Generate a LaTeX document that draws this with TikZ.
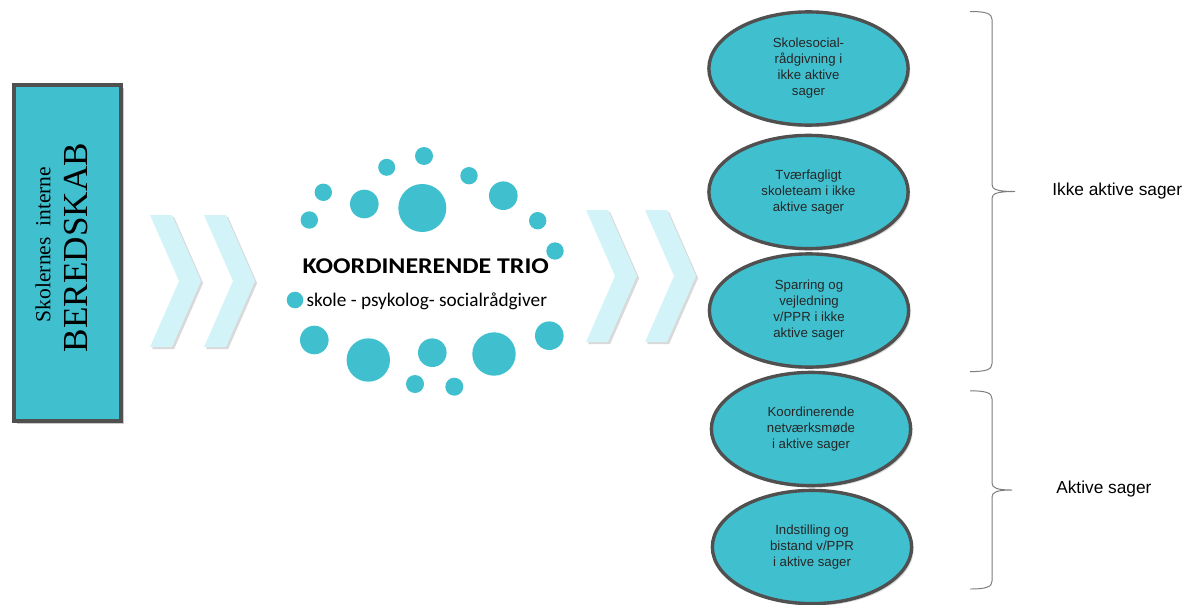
\documentclass[tikz,border=0pt]{standalone}
\usepackage{fontspec}
\setmainfont{Liberation Serif}
\setsansfont{Liberation Sans}
\newfontfamily\calibri{Carlito}
\usetikzlibrary{shapes.geometric, shadows}
\definecolor{trioteal}{RGB}{64,192,207}
\definecolor{rimgray}{RGB}{80,80,80}
\definecolor{chevcyan}{RGB}{210,244,248}
\definecolor{bracegray}{RGB}{125,125,125}

\begin{document}
\begin{tikzpicture}[x=0.025cm,y=-0.025cm,
  boxnode/.style={rectangle,fill=trioteal,draw=rimgray,line width=2.4pt,
    minimum width=2.68cm,minimum height=8.4cm,inner sep=0pt,
    drop shadow={shadow xshift=2pt,shadow yshift=-2pt,opacity=0.4}},
  case/.style={ellipse,fill=trioteal,draw=rimgray,line width=2.4pt,
    minimum width=4.98cm,minimum height=2.83cm,inner sep=0pt,align=center,
    font=\sffamily\fontsize{9.4}{11.4}\selectfont,text=black!85,
    drop shadow={shadow xshift=1.5pt,shadow yshift=-1.5pt,opacity=0.3}},
  chev/.style={fill=chevcyan,
    drop shadow={shadow xshift=1.5pt,shadow yshift=-1.5pt,opacity=0.3}},
  dot/.style={fill=trioteal},
  curly/.style={draw=bracegray,line width=0.7pt},
  sidelabel/.style={anchor=west,inner sep=0pt,font=\sffamily\fontsize{12.3}{15}\selectfont}]
  \useasboundingbox (0,0) rectangle (1187,604);

  % left box
  \node[boxnode] (beredskab) at (67.5,253) {};
  \node[rotate=90,font=\fontsize{15.3}{18}\selectfont] (skolernes) at (43,244.5)
    {Skolernes\hspace{0.5em}interne};
  \node[rotate=90,font=\fontsize{25}{30}\selectfont] (bered) at (76,247.5) {BEREDSKAB};

  % chevrons
  \foreach \cx/\cy in {150/281, 204/281, 586/276, 645/276}
    \fill[chev] (\cx,\cy-66) -- ++(22,0) -- ++(29,66) -- ++(-29,66)
      -- ++(-22,0) -- ++(29,-66) -- cycle;

  % trio dots
  \foreach \x/\y/\r in {424/156/9, 386.7/167.3/8.5, 469/175.7/8.7, 323.3/192.3/8.7,
      364.3/204/14.3, 422.3/208/24, 503.3/195.7/14.3, 309.3/220/8.7,
      537.7/220.7/8.7, 555/251/8.7, 295/300/8.3, 314.3/340/14.3,
      368.3/360/21.7, 432.3/352.7/14.3, 494/354/21.7, 549.3/335.7/14.3,
      415/384/9, 454.3/386.7/9}
    \fill[dot] (\x,\y) circle[radius=\r*0.025cm];
  \node[anchor=base,xscale=1.15,font=\calibri\bfseries\fontsize{16}{18}\selectfont] (trio)
    at (425.8,273.3) {KOORDINERENDE TRIO};
  \node[anchor=base,font=\calibri\fontsize{13.7}{16}\selectfont] (roller)
    at (426.8,306.7) {skole - psykolog- socialrådgiver};

  % support options
  \node[case] (skolesocial) at (808.5,68.5) {Skolesocial-\\rådgivning i\\ikke aktive\\sager};
  \node[case] (tvaerfagligt) at (808.5,192) {Tværfagligt\\skoleteam i ikke\\aktive sager};
  \node[case] (sparring) at (809,310.5) {Sparring og\\vejledning\\v/PPR i ikke\\aktive sager};
  \node[case] (netvaerk) at (811,429) {Koordinerende\\netværksmøde\\i aktive sager};
  \node[case] (indstilling) at (812,547) {Indstilling og\\bistand v/PPR\\i aktive sager};

  % braces
  \foreach \top/\mid/\bot/\tipx in {11.5/191.5/371.6/1015, 390.8/490/589/1012}
    \draw[curly] (970,\top) .. controls (986,\top) and (992,\top+2) .. (992,\top+8)
      -- (992,\mid-7) .. controls (992,\mid-2) and (997,\mid) .. (\tipx,\mid)
      .. controls (997,\mid) and (992,\mid+2) .. (992,\mid+7)
      -- (992,\bot-8) .. controls (992,\bot-2) and (986,\bot) .. (970,\bot);
  \node[sidelabel] (ikkeaktive) at (1052,190.6) {Ikke aktive sager};
  \node[sidelabel] (aktive) at (1056,489) {Aktive sager};
\end{tikzpicture}
\end{document}
